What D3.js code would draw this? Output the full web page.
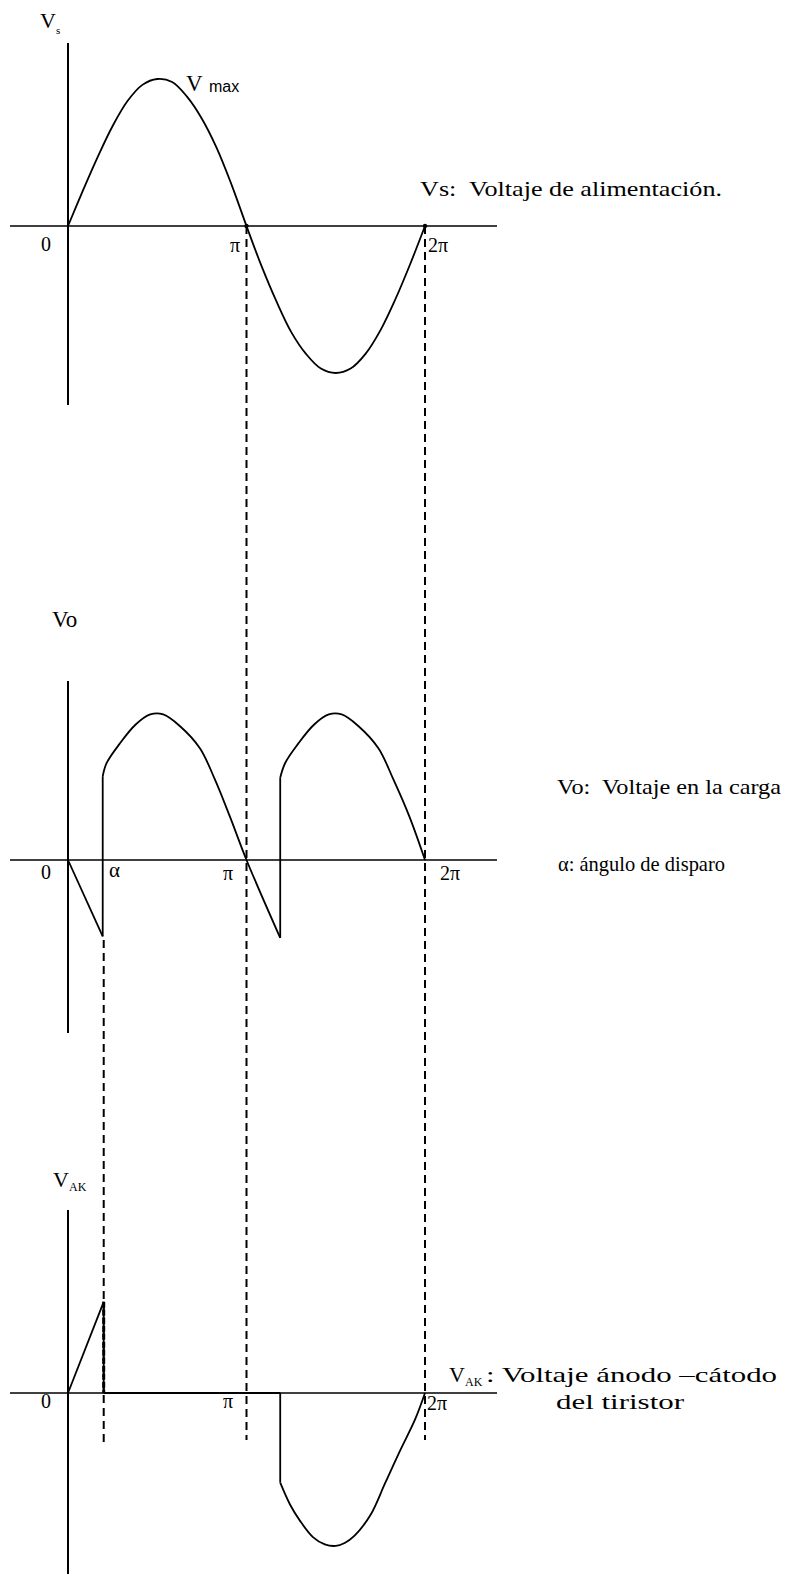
<!DOCTYPE html>
<html>
<head>
<meta charset="utf-8">
<script src="https://cdn.jsdelivr.net/npm/d3@7"></script>
<style>
  html, body { margin: 0; padding: 0; background: #fff; }
  svg { display: block; }
  text { font-family: "Liberation Serif", "Times New Roman", serif; fill: #000; white-space: pre; }
</style>
</head>
<body>
<svg id="chart" width="788" height="1577"></svg>
<script>
// ---- data (angles in degrees, values as fraction of Vmax) ----
const vsAngles  = [0, 15, 30, 45, 60, 75, 90, 105, 120, 135, 150, 165, 180,
                   195, 210, 225, 240, 255, 270, 285, 300, 315, 330, 345, 360];
const vsValues  = [0, 0.24, 0.47, 0.68, 0.85, 0.96, 1.0, 0.98, 0.88, 0.73, 0.53, 0.28, 0,
                   -0.27, -0.51, -0.72, -0.87, -0.97, -1.0, -0.97, -0.87, -0.71, -0.50, -0.26, 0];

const voAngles  = [0, 35, 35, 39, 52, 68, 83, 96, 113, 133, 148, 163, 180,
                   214, 214, 219, 232, 248, 263, 276, 293, 313, 328, 344, 360];
const voValues  = [0, -0.52, 0.57, 0.66, 0.79, 0.92, 0.99, 0.99, 0.91, 0.76, 0.55, 0.30, 0,
                   -0.53, 0.56, 0.66, 0.79, 0.92, 0.99, 0.99, 0.91, 0.76, 0.55, 0.30, 0];

const vakAngles = [0, 36, 36, 214, 214, 224, 234, 247, 259, 270, 279, 289, 305, 320, 335, 350, 360];
const vakValues = [0, 0.62, 0, 0, -0.61, -0.76, -0.87, -0.98, -1.03, -1.04, -1.02, -0.97, -0.83, -0.61, -0.39, -0.18, 0];

const alphaAngle = 35;
const guideAngles = [180, 360];
const tickLabels = ["0", "π", "2π"];

// ---- layout ----
const svg = d3.select("#chart");
const x = d3.scaleLinear().domain([0, 360]).range([68, 425]);
const amp = 147;
const panels = [
  { y0: 226,  axisTop: 43,   axisBot: 405,  angles: vsAngles,  values: vsValues },
  { y0: 860,  axisTop: 681,  axisBot: 1033, angles: voAngles,  values: voValues },
  { y0: 1393, axisTop: 1210, axisBot: 1574, angles: vakAngles, values: vakValues }
];
panels.forEach(p => {
  p.y = d3.scaleLinear().domain([-1, 1]).range([p.y0 + amp, p.y0 - amp]);
});

// dashed guides
const dash = "8,5";
guideAngles.forEach(a => {
  svg.append("line")
    .attr("x1", x(a)).attr("x2", x(a))
    .attr("y1", panels[0].y0).attr("y2", 1440)
    .attr("stroke", "#000").attr("stroke-width", 2).attr("stroke-dasharray", dash);
});
svg.append("line")
  .attr("x1", x(alphaAngle) + 1).attr("x2", x(alphaAngle) + 1)
  .attr("y1", 940).attr("y2", 1445)
  .attr("stroke", "#000").attr("stroke-width", 2).attr("stroke-dasharray", dash);

// axes
panels.forEach(p => {
  svg.append("line").attr("x1", 10).attr("x2", 497)
    .attr("y1", p.y0).attr("y2", p.y0)
    .attr("stroke", "#000").attr("stroke-width", 1.3);
  svg.append("line").attr("x1", x(0)).attr("x2", x(0))
    .attr("y1", p.axisTop).attr("y2", p.axisBot)
    .attr("stroke", "#000").attr("stroke-width", 2);
});

// curves: smooth runs, straight vertical jumps where the angle repeats
const smooth = d3.line().curve(d3.curveCatmullRom.alpha(0.5));
const straight = d3.line();
panels.forEach(p => {
  const pts = p.angles.map((a, i) => [x(a), p.y(p.values[i])]);
  const runs = [[pts[0]]];
  for (let i = 1; i < pts.length; i++) {
    if (p.angles[i] === p.angles[i - 1]) {
      svg.append("path").attr("d", straight([pts[i - 1], pts[i]]))
        .attr("fill", "none").attr("stroke", "#000").attr("stroke-width", 1.8);
      runs.push([pts[i]]);
    } else {
      runs[runs.length - 1].push(pts[i]);
    }
  }
  runs.forEach(r => {
    if (r.length < 2) return;
    svg.append("path").attr("d", r.length === 2 ? straight(r) : smooth(r))
      .attr("fill", "none").attr("stroke", "#000").attr("stroke-width", 1.8)
      .attr("stroke-linejoin", "round");
  });
});
// thick stroke at alpha in the V_AK panel
svg.append("line")
  .attr("x1", x(36)).attr("x2", x(36))
  .attr("y1", panels[2].y(vakValues[1])).attr("y2", panels[2].y0)
  .attr("stroke", "#000").attr("stroke-width", 3).attr("stroke-dasharray", "6,2");

// small marks where the curves cross the axis at pi and 2pi in the top panel
guideAngles.forEach(a => {
  svg.append("circle").attr("cx", x(a)).attr("cy", panels[0].y0).attr("r", 2.2).attr("fill", "#000");
});

// ---- text ----
function txt(s, X, Y, size, opts = {}) {
  const t = svg.append("text").attr("x", X).attr("y", Y)
    .attr("font-size", size).text(s);
  if (opts.anchor) t.attr("text-anchor", opts.anchor);
  if (opts.len) t.attr("textLength", opts.len).attr("lengthAdjust", "spacingAndGlyphs");
  if (opts.family) t.style("font-family", opts.family);
  return t;
}

// panel 1
txt("V", 40, 28, 22);
txt("s", 56, 34, 11);
txt("V", 186, 91, 23);
txt("max", 209, 92, 16, { family: "Liberation Sans" });
txt(tickLabels[0], 46, 251, 20, { anchor: "middle" });
txt(tickLabels[1], 240, 252, 20, { anchor: "end" });
txt(tickLabels[2], 428, 252, 20);
txt("Vs:  Voltaje de alimentación.", 420, 196, 22, { len: 302 });

// panel 2
txt("Vo", 52, 627, 23);
txt(tickLabels[0], 46, 879, 20, { anchor: "middle" });
txt("α", 109, 877, 21);
txt(tickLabels[1], 233, 880, 20, { anchor: "end" });
txt(tickLabels[2], 440, 880, 20);
txt("Vo:  Voltaje en la carga", 557, 794, 22, { len: 224 });
txt("α: ángulo de disparo", 558, 871, 21, { len: 167 });

// panel 3
txt("V", 53, 1187, 22);
txt("AK", 69, 1191, 12);
txt(tickLabels[0], 46, 1408, 20, { anchor: "middle" });
txt(tickLabels[1], 233, 1408, 20, { anchor: "end" });
txt(tickLabels[2], 427, 1410, 20);
txt("V", 449, 1382, 22);
txt("AK", 465, 1386, 12);
txt(": Voltaje ánodo –cátodo", 486, 1382, 22, { len: 291 });
txt("del tiristor", 556, 1409, 22, { len: 128 });
</script>
</body>
</html>
